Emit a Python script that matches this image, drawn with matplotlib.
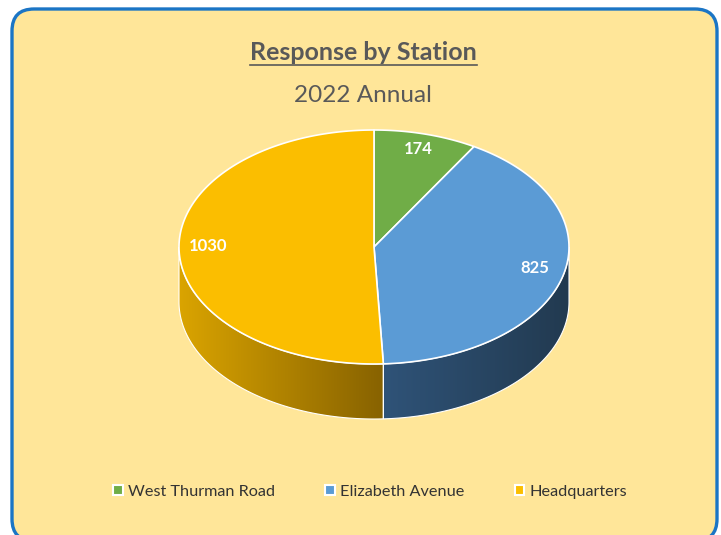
import numpy as np
import matplotlib
matplotlib.use("Agg")
import matplotlib.pyplot as plt
from matplotlib.patches import Polygon, FancyBboxPatch, Patch
from matplotlib.colors import to_rgb

# ---- data ----
stations = ["West Thurman Road", "Elizabeth Avenue", "Headquarters"]
responses = [174, 825, 1030]
top_colors = ["#70AD47", "#5B9BD5", "#FBBE00"]
side_left = ["#4E7A31", "#2F5378", "#DAA400"]
side_right = ["#3E6127", "#223A50", "#876200"]
title = "Response by Station"
subtitle = "2022 Annual"

W, H = 721, 535
fig = plt.figure(figsize=(W / 100, H / 100), dpi=100)
fig.patch.set_facecolor("white")
ax = fig.add_axes([0, 0, 1, 1])
ax.set_xlim(0, W)
ax.set_ylim(H, 0)
ax.axis("off")

# rounded chart area
frame = FancyBboxPatch((12, 9), 705, 532, boxstyle="round,pad=0,rounding_size=22",
                       fc="#FFE699", ec="#1B75C5", lw=2.4, zorder=0)
ax.add_patch(frame)

# pie geometry (pixels)
cx, cy, rx, ry, depth = 374, 247, 195, 117, 55


def ell(t, dy=0.0):
    return cx + rx * np.sin(t), cy - ry * np.cos(t) + dy


fr = np.array(responses) / sum(responses)
bounds = np.concatenate([[0], np.cumsum(fr)]) * 2 * np.pi

# side faces (front half only)
for i in range(len(responses)):
    a = max(bounds[i], np.pi / 2)
    b = min(bounds[i + 1], 3 * np.pi / 2)
    if b <= a:
        continue
    t = np.linspace(a, b, 120)
    xt, yt = ell(t)
    xb, yb = ell(t[::-1], depth)
    pts = np.column_stack([np.concatenate([xt, xb]), np.concatenate([yt, yb])])
    poly = Polygon(pts, closed=True, fc="none", ec="white", lw=0.8, zorder=2)
    ax.add_patch(poly)
    x0, x1 = pts[:, 0].min(), pts[:, 0].max()
    c0, c1 = np.array(to_rgb(side_left[i])), np.array(to_rgb(side_right[i]))
    s = np.linspace(0, 1, 256)[:, None]
    img = (c0 + (c1 - c0) * s)[None, :, :]
    im = ax.imshow(img, extent=(x0, x1, pts[:, 1].max(), pts[:, 1].min()),
                   aspect="auto", zorder=1, interpolation="bilinear")
    im.set_clip_path(poly)

# top slices
for i in range(len(responses)):
    t = np.linspace(bounds[i], bounds[i + 1], 200)
    xs, ys = ell(t)
    pts = np.column_stack([np.concatenate([[cx], xs]), np.concatenate([[cy], ys])])
    ax.add_patch(Polygon(pts, closed=True, fc=top_colors[i], ec="white", lw=1.2,
                         joinstyle="round", zorder=3))
    mid = (bounds[i] + bounds[i + 1]) / 2
    lx = cx + rx * 0.85 * np.sin(mid)
    ly = cy - ry * 0.84 * np.cos(mid) - 3
    ax.text(lx, ly, str(responses[i]), color="white", fontsize=12, fontweight="bold",
            family="Lato", ha="center", va="center", zorder=4)

ax.set_xlim(0, W)
ax.set_ylim(H, 0)

# titles
tt = ax.text(363.5, 60, title, fontsize=18, fontweight="bold", family="Lato",
             color="#595959", ha="center", va="baseline", zorder=5)
ax.text(363, 102, subtitle, fontsize=17.5, family="Lato", color="#595959",
        ha="center", va="baseline", zorder=5)
fig.canvas.draw()
bb = tt.get_window_extent(fig.canvas.get_renderer()).transformed(ax.transData.inverted())
ax.plot([bb.x0, bb.x1], [65, 65], color="#595959", lw=1.2, zorder=5)

# legend
handles = [Patch(fc=c, ec="white", lw=1.5) for c in top_colors]
fig.legend(handles, stations, loc="center", bbox_to_anchor=(370 / W, 1 - 492 / H),
           ncol=3, frameon=False, handlelength=0.6, handleheight=0.6,
           handletextpad=0.3, columnspacing=3.1,
           prop={"family": "Lato", "size": 11.7}, labelcolor="#333333")

fig.savefig("out.png", dpi=100)
